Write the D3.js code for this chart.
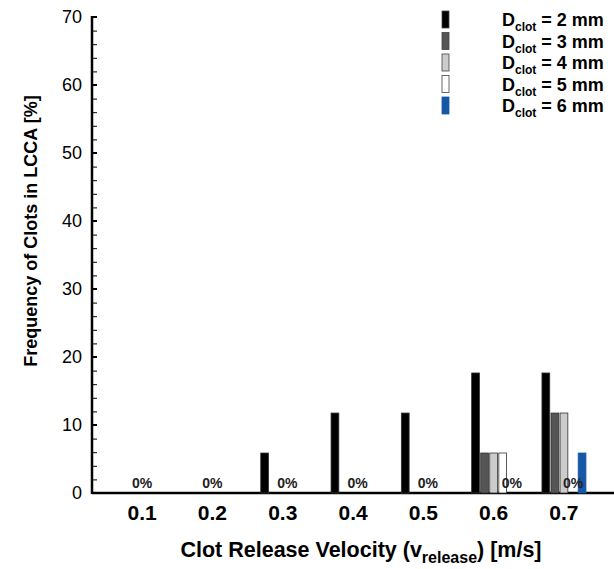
<!DOCTYPE html>
<html>
<head>
<meta charset="utf-8">
<script src="https://cdn.jsdelivr.net/npm/d3@7"></script>
<style>
  body { margin: 0; background: #fff; }
  text { font-family: "Liberation Sans", Arial, sans-serif; }
</style>
</head>
<body>
<div id="chart"></div>
<script>
// velocities on the x axis
const velocities = ['0.1', '0.2', '0.3', '0.4', '0.5', '0.6', '0.7'];
// clot diameters (series)
const diameters = ['2', '3', '4', '5', '6'];
// frequency [%] per diameter, one value per velocity
const d2mm = [0, 0, 5.88, 11.76, 11.76, 17.65, 17.65];
const d3mm = [0, 0, 0, 0, 0, 5.88, 11.76];
const d4mm = [0, 0, 0, 0, 0, 5.88, 11.76];
const d5mm = [0, 0, 0, 0, 0, 5.88, 0];
const d6mm = [0, 0, 0, 0, 0, 0, 5.88];
const seriesValues = [d2mm, d3mm, d4mm, d5mm, d6mm];
const seriesColors = ['#000000', '#555555', '#cccccc', '#ffffff', '#1757a8'];
const yTicks = [0, 10, 20, 30, 40, 50, 60, 70];

const width = 614, height = 569;
const margin = {top: 17, right: 0, bottom: 76, left: 92};
const innerW = width - margin.left - margin.right;
const innerH = height - margin.top - margin.bottom;

const svg = d3.select("#chart").append("svg")
    .attr("width", width)
    .attr("height", height);

const g = svg.append("g")
    .attr("transform", "translate(" + margin.left + "," + margin.top + ")");

// x: band per velocity, centers ~70px apart
const xScale = d3.scaleBand()
    .domain(velocities)
    .range([15, 15 + 70.3 * 7])
    .paddingInner(0.374)
    .paddingOuter(0.187);
const xSub = d3.scaleBand()
    .domain(diameters)
    .range([0, xScale.bandwidth()])
    .paddingInner(0.14);

const yScale = d3.scaleLinear().domain([0, 70]).range([innerH, 0]);

// y axis: major ticks every 10, minor every 2, pointing inward
g.append("g")
    .attr("class", "yMinor")
    .call(d3.axisRight(yScale).tickValues(d3.range(0, 71, 2)).tickSize(5).tickFormat(""))
    .call(a => a.select(".domain").remove())
    .selectAll("line").attr("stroke", "#000").attr("stroke-width", 1);

g.append("g")
    .attr("class", "yAxis")
    .call(d3.axisLeft(yScale).tickValues(yTicks).tickSize(0).tickPadding(10))
    .call(a => a.select(".domain").remove())
    .selectAll("text")
    .style("font-size", "18px")
    .attr("fill", "#000");

g.selectAll(".yMajor")
    .data(yTicks)
    .join("line")
    .attr("class", "yMajor")
    .attr("x1", 0).attr("x2", 5)
    .attr("y1", d => yScale(d)).attr("y2", d => yScale(d))
    .attr("stroke", "#000").attr("stroke-width", 2);

// axis lines
g.append("line")
    .attr("x1", 0).attr("x2", 0)
    .attr("y1", -1).attr("y2", innerH + 1)
    .attr("stroke", "#000").attr("stroke-width", 2.5);
g.append("line")
    .attr("x1", 0).attr("x2", innerW)
    .attr("y1", innerH).attr("y2", innerH)
    .attr("stroke", "#000").attr("stroke-width", 2.5);

// x tick labels
g.append("g")
    .attr("class", "xAxis")
    .attr("transform", "translate(0," + innerH + ")")
    .call(d3.axisBottom(xScale).tickSize(0).tickPadding(12))
    .call(a => a.select(".domain").remove())
    .selectAll("text")
    .style("font-size", "21px")
    .style("font-weight", "bold")
    .attr("fill", "#000");

// bars
const groups = g.selectAll(".group")
    .data(velocities)
    .join("g")
    .attr("class", "group")
    .attr("transform", d => "translate(" + xScale(d) + ",0)");

groups.selectAll("rect")
    .data((v, i) => diameters.map((dm, j) => ({dm: dm, value: seriesValues[j][i], color: seriesColors[j]})))
    .join("rect")
    .attr("x", d => xSub(d.dm))
    .attr("y", d => yScale(d.value))
    .attr("width", xSub.bandwidth())
    .attr("height", d => innerH - yScale(d.value))
    .attr("fill", d => d.color)
    .attr("stroke", d => d.value === 0 ? "#888" : (d.color === "#1757a8" ? "#1757a8" : "#333"))
    .attr("stroke-width", 0.8);

// "0%" labels above the zero-height bars
groups.each(function (v, i) {
    const zeros = diameters.filter((dm, j) => seriesValues[j][i] === 0);
    if (zeros.length === 0) return;
    const cx = d3.mean(zeros, dm => xSub(dm) + xSub.bandwidth() / 2);
    d3.select(this).append("text")
        .attr("x", cx)
        .attr("y", innerH - 5)
        .attr("text-anchor", "middle")
        .style("font-size", "14px")
        .style("font-weight", "bold")
        .attr("fill", "#222")
        .text("0%");
});

// legend
const legend = svg.append("g")
    .attr("class", "legend")
    .attr("transform", "translate(442,11)");
diameters.forEach((dm, j) => {
    const row = legend.append("g").attr("transform", "translate(0," + (j * 21.5) + ")");
    row.append("rect")
        .attr("width", 7).attr("height", 17)
        .attr("fill", seriesColors[j])
        .attr("stroke", j === 4 ? seriesColors[j] : "#444")
        .attr("stroke-width", 0.8);
    const t = row.append("text")
        .attr("x", 60).attr("y", 15)
        .style("font-size", "18px")
        .style("font-weight", "bold");
    t.append("tspan").text("D");
    t.append("tspan").attr("dy", 5).style("font-size", "12px").text("clot");
    t.append("tspan").attr("dy", -5).text(" = " + dm + " mm");
});

// axis titles
svg.append("text")
    .attr("transform", "translate(37,231) rotate(-90)")
    .attr("text-anchor", "middle")
    .style("font-size", "18px")
    .style("font-weight", "bold")
    .text("Frequency of Clots in LCCA [%]");

const xt = svg.append("text")
    .attr("x", 361).attr("y", 557)
    .attr("text-anchor", "middle")
    .style("font-size", "21.5px")
    .style("font-weight", "bold");
xt.append("tspan").text("Clot Release Velocity (v");
xt.append("tspan").attr("dy", 6).style("font-size", "16px").text("release");
xt.append("tspan").attr("dy", -6).text(") [m/s]");
</script>
</body>
</html>
